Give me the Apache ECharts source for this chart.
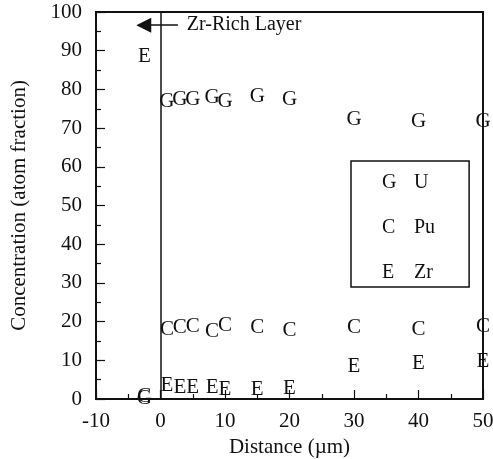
<!DOCTYPE html>
<html>
<head>
<meta charset="utf-8">
<style>
  html, body { margin: 0; padding: 0; background: #fff; }
  #chart { width: 493px; height: 459px; }
</style>
<script src="https://cdn.jsdelivr.net/npm/echarts@6/dist/echarts.min.js"></script>
</head>
<body>
<div id="chart"></div>
<script>
// Distance from the interface (µm); negative side is the Zr-rich layer
const distance = [-2.5, 1, 3, 5, 8, 10, 15, 20, 30, 40, 50];
// Concentrations (atom fraction, %)
const uValues  = [0.6, 77.3, 77.8, 77.8, 78.4, 77.3, 78.8, 77.8, 72.7, 72.2, 72.2];
const puValues = [1.2, 18.5, 19.1, 19.3, 17.9, 19.6, 18.9, 18.2, 18.9, 18.5, 19.3];
const zrValues = [89.0, 3.9, 3.6, 3.6, 3.6, 3.0, 3.0, 3.3, 9.0, 9.6, 10.3];
// Element names and the letter used to mark each one
const elements = ['U', 'Pu', 'Zr'];
const letters  = { U: 'G', Pu: 'C', Zr: 'E' };
const xTicks = { min: -10, max: 50, step: 10 };
const yTicks = { min: 0, max: 100, step: 10 };

const FONT = 'Liberation Serif';
const INK = '#111';

function pairs(values) {
  return distance.map((d, i) => [d, values[i]]);
}

// Each measurement is drawn as its element's letter, centred on the data point
function letterSeries(name, values, extra) {
  const letter = letters[name];
  return Object.assign({
    name: name,
    type: 'custom',
    data: pairs(values),
    encode: { x: 0, y: 1 },
    itemStyle: { color: INK },
    silent: true,
    z: 3,
    renderItem: function (params, api) {
      const p = api.coord([api.value(0), api.value(1)]);
      return {
        type: 'text',
        x: p[0],
        y: p[1] + 2, // optical centring of the capital letter
        style: {
          text: letter,
          fill: INK,
          font: '21px "' + FONT + '"',
          align: 'center',
          verticalAlign: 'middle'
        }
      };
    }
  }, extra || {});
}

const chart = echarts.init(document.getElementById('chart'), null, { renderer: 'canvas' });

chart.setOption({
  animation: false,
  backgroundColor: '#fff',
  textStyle: { fontFamily: FONT, color: INK },
  grid: {
    left: 96, right: 10, top: 12, bottom: 60,
    outerBoundsMode: 'none',
    containLabel: false,
    show: true, borderColor: INK, borderWidth: 2, backgroundColor: 'transparent'
  },
  legend: {
    data: elements,
    orient: 'vertical',
    left: 351, top: 161,
    padding: [12, 34, 4, 26],
    itemGap: 25,
    itemWidth: 0, itemHeight: 0,
    borderColor: INK, borderWidth: 1.5,
    selectedMode: false,
    formatter: function (name) { return '{m|' + letters[name] + '}{n|' + name + '}'; },
    textStyle: {
      fontFamily: FONT, fontSize: 20, color: INK,
      rich: {
        m: { width: 32, fontFamily: FONT, fontSize: 20, color: INK },
        n: { width: 24, fontFamily: FONT, fontSize: 20, color: INK }
      }
    }
  },
  xAxis: {
    type: 'value',
    min: xTicks.min, max: xTicks.max, interval: xTicks.step,
    name: 'Distance (µm)',
    nameLocation: 'middle',
    nameGap: 37,
    nameTextStyle: { fontFamily: FONT, fontSize: 21, color: INK },
    axisLine: { show: true, onZero: false, lineStyle: { color: INK, width: 2 } },
    axisTick: { show: true, inside: true, length: 9, lineStyle: { color: INK, width: 1.2 } },
    minorTick: { show: true, splitNumber: 2, length: 5, lineStyle: { color: INK, width: 1.2 } },
    axisLabel: { fontFamily: FONT, fontSize: 21, color: INK, margin: 12 },
    splitLine: { show: false }
  },
  yAxis: {
    type: 'value',
    min: yTicks.min, max: yTicks.max, interval: yTicks.step,
    name: 'Concentration (atom fraction)',
    nameLocation: 'middle',
    nameGap: 66,
    nameTextStyle: { fontFamily: FONT, fontSize: 21, color: INK },
    axisLine: { show: true, onZero: false, lineStyle: { color: INK, width: 2 } },
    axisTick: { show: true, inside: true, length: 9, lineStyle: { color: INK, width: 1.2 } },
    minorTick: { show: true, splitNumber: 2, length: 5, lineStyle: { color: INK, width: 1.2 } },
    axisLabel: { fontFamily: FONT, fontSize: 21, color: INK, margin: 14 },
    splitLine: { show: false }
  },
  series: [
    letterSeries('Zr', zrValues, {
      // interface at x = 0 and the arrow pointing into the Zr-rich layer
      markLine: {
        silent: true,
        animation: false,
        symbol: 'none',
        label: { show: false },
        emphasis: { disabled: true },
        data: [
          { xAxis: 0 },
          [
            { coord: [2.7, 96.6], symbol: 'none' },
            { coord: [-2.6, 96.6], symbol: 'triangle', symbolSize: 15 }
          ]
        ],
        lineStyle: { color: INK, width: 1.5, type: 'solid' },
        itemStyle: { color: INK }
      }
    }),
    letterSeries('Pu', puValues),
    letterSeries('U', uValues, {
      markPoint: {
        silent: true,
        animation: false,
        symbol: 'circle',
        symbolSize: 1,
        itemStyle: { color: '#fff', opacity: 0 },
        data: [{
          coord: [4.0, 96.6],
          label: {
            show: true,
            position: 'right',
            distance: 0,
            formatter: 'Zr-Rich Layer',
            fontFamily: FONT,
            fontSize: 20,
            color: INK,
            opacity: 1
          }
        }]
      }
    })
  ]
});
</script>
</body>
</html>
